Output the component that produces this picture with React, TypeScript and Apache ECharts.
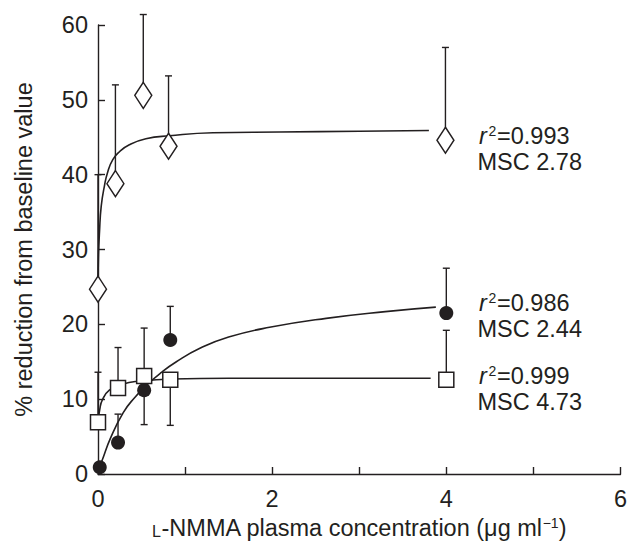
import React, { useEffect, useRef } from "react";
import * as echarts from "echarts";

// ---- data ----
const diamondX = [0, 0.2, 0.52, 0.81, 3.99];
const diamondY = [24.7, 38.8, 50.6, 43.8, 44.6];
const diamondErrEnd = [40.0, 52.0, 61.4, 53.2, 57.0];

const circleX = [0.02, 0.23, 0.53, 0.83, 4.0];
const circleY = [0.9, 4.2, 11.2, 17.9, 21.5];
const circleErrEnd: (number | null)[] = [null, 8.0, 6.6, 22.4, 27.5];

const squareX = [0, 0.23, 0.53, 0.83, 4.0];
const squareY = [6.9, 11.5, 13.1, 12.6, 12.6];
const squareErrEnd = [13.6, 16.9, 19.5, 6.5, 19.2];

const diamondFitX = [0, 0.005, 0.017, 0.037, 0.074, 0.11, 0.17, 0.25, 0.36, 0.55, 0.82, 1.32, 2.08, 3.0, 3.8];
const diamondFitY = [25, 29, 32.3, 35.8, 38.5, 40.3, 42.0, 43.1, 44.0, 44.8, 45.2, 45.6, 45.7, 45.8, 45.9];

const circleFitX = [0, 0.05, 0.14, 0.29, 0.42, 0.56, 0.72, 0.9, 1.17, 1.5, 1.97, 2.62, 3.3, 3.88];
const circleFitY = [0.5, 1.9, 4.7, 8.2, 10.2, 11.9, 13.5, 15.0, 16.8, 18.3, 19.6, 20.8, 21.7, 22.3];

const squareFitX = [0, 0.02, 0.05, 0.13, 0.28, 0.47, 0.85, 1.5, 2.5, 3.82];
const squareFitY = [6.9, 8.6, 9.9, 11.2, 12.0, 12.4, 12.7, 12.8, 12.8, 12.8];

const annR2 = ["0.993", "0.986", "0.999"];
const annMSC = ["2.78", "2.44", "4.73"];

const xTicks = [0, 2, 4, 6];

const FONT = '"Liberation Sans", Arial, Helvetica, sans-serif';
const INK = "#231f20";
const FS = 23.5;

const zip = (xs: number[], ys: number[]) => xs.map((x, i) => [x, ys[i]]);
const errData = (xs: number[], ys: number[], ends: (number | null)[]) =>
  xs
    .map((x, i) => (ends[i] == null ? null : [x, ys[i], ends[i] as number]))
    .filter((d) => d !== null) as number[][];

function errorBarSeries(data: number[][]) {
  return {
    type: "custom",
    data,
    encode: { x: 0, y: [1, 2] },
    clip: false,
    z: 3,
    renderItem: (params: any, api: any) => {
      const p0 = api.coord([api.value(0), api.value(1)]);
      const p1 = api.coord([api.value(0), api.value(2)]);
      const style = { stroke: INK, lineWidth: 1.4 };
      return {
        type: "group",
        children: [
          { type: "line", shape: { x1: p0[0], y1: p0[1], x2: p1[0], y2: p1[1] }, style },
          { type: "line", shape: { x1: p1[0] - 3.5, y1: p1[1], x2: p1[0] + 3.5, y2: p1[1] }, style },
        ],
      };
    },
  };
}

function fitSeries(xs: number[], ys: number[]) {
  return {
    type: "line",
    data: zip(xs, ys),
    showSymbol: false,
    symbol: "none",
    smooth: 0.5,
    lineStyle: { color: INK, width: 1.6 },
    z: 2,
    silent: true,
  };
}

function annotation(x: number, y: number, r2: string, msc: string) {
  const base = { fill: INK, fontFamily: FONT, fontSize: FS, verticalAlign: "middle", align: "left" };
  return [
    { type: "text", x: x, y: y, style: { ...base, text: "r", fontStyle: "italic" } },
    { type: "text", x: x + 9.5, y: y - 5, style: { ...base, text: "2", fontSize: 14 } },
    { type: "text", x: x + 18, y: y, style: { ...base, text: "=" + r2 } },
    { type: "text", x: x - 1.5, y: y + 26, style: { ...base, text: "MSC " + msc } },
  ];
}

export default function App() {
  const ref = useRef<HTMLDivElement>(null);
  useEffect(() => {
    if (!ref.current) return;
    const chart = echarts.init(ref.current, undefined, { renderer: "svg" });
    const option: any = {
      animation: false,
      backgroundColor: "#ffffff",
      grid: { left: 98, right: 8, top: 25, bottom: 69, containLabel: false },
      xAxis: {
        type: "value",
        min: 0,
        max: 6,
        interval: 1,
        name: "{sc|L}-NMMA plasma concentration (μg ml{sup|−1})",
        nameLocation: "middle",
        nameGap: 42,
        nameTextStyle: {
          fontFamily: FONT,
          fontSize: FS,
          color: INK,
          rich: {
            sc: { fontFamily: FONT, fontSize: 16, color: INK, verticalAlign: "bottom", padding: [0, 0, 1, 0] },
            sup: { fontFamily: FONT, fontSize: 14, color: INK, verticalAlign: "top" },
          },
        },
        axisLine: { show: true, lineStyle: { color: INK, width: 1.4 } },
        axisTick: { show: true, inside: true, length: 7, lineStyle: { color: INK, width: 1.4 } },
        axisLabel: {
          fontFamily: FONT,
          fontSize: FS,
          color: INK,
          margin: 13,
          formatter: (v: number) => (xTicks.indexOf(v) >= 0 ? String(v) : ""),
        },
        splitLine: { show: false },
      },
      yAxis: {
        type: "value",
        min: 0,
        max: 60,
        interval: 10,
        name: "% reduction from baseline value",
        nameLocation: "middle",
        nameGap: 62,
        nameRotate: 90,
        nameTextStyle: { fontFamily: FONT, fontSize: FS, color: INK },
        axisLine: { show: true, lineStyle: { color: INK, width: 1.4 } },
        axisTick: { show: true, inside: true, length: 7, lineStyle: { color: INK, width: 1.4 } },
        axisLabel: { fontFamily: FONT, fontSize: FS, color: INK, margin: 10 },
        splitLine: { show: false },
      },
      graphic: [
        ...annotation(479, 136, annR2[0], annMSC[0]),
        ...annotation(479, 302.5, annR2[1], annMSC[1]),
        ...annotation(479, 376, annR2[2], annMSC[2]),
      ],
      series: [
        fitSeries(diamondFitX, diamondFitY),
        fitSeries(circleFitX, circleFitY),
        fitSeries(squareFitX, squareFitY),
        errorBarSeries(errData(diamondX, diamondY, diamondErrEnd)),
        errorBarSeries(errData(squareX, squareY, squareErrEnd)),
        errorBarSeries(errData(circleX, circleY, circleErrEnd)),
        {
          type: "scatter",
          data: zip(diamondX, diamondY),
          symbol: "diamond",
          symbolSize: [17, 26],
          itemStyle: { color: "#ffffff", borderColor: INK, borderWidth: 1.5, opacity: 1 },
          z: 4,
          clip: false,
        },
        {
          type: "scatter",
          data: zip(squareX, squareY),
          symbol: "rect",
          symbolSize: 15,
          itemStyle: { color: "#ffffff", borderColor: INK, borderWidth: 1.5, opacity: 1 },
          z: 4,
          clip: false,
        },
        {
          type: "scatter",
          data: zip(circleX, circleY),
          symbol: "circle",
          symbolSize: 14,
          itemStyle: { color: INK, borderColor: INK, borderWidth: 0, opacity: 1 },
          z: 5,
          clip: false,
        },
      ],
    };
    chart.setOption(option);
    return () => chart.dispose();
  }, []);
  return (
    <div
      ref={ref}
      style={{ position: "fixed", left: 0, top: 0, width: 630, height: 545, background: "#fff" }}
    />
  );
}
